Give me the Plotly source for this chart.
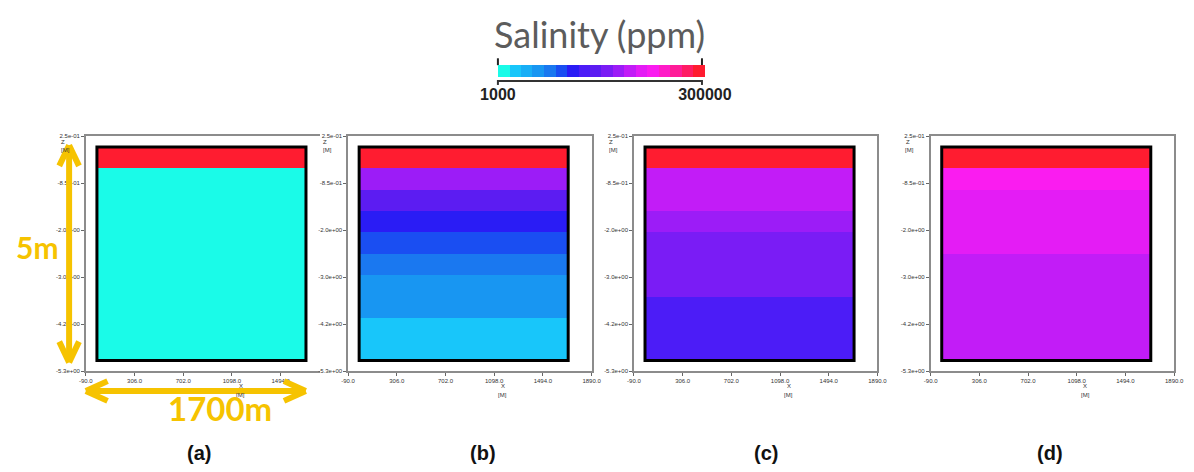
import plotly.graph_objects as go

W, H = 1194, 472

# ---------------- data ----------------
ZMIN, ZMAX = 1000, 300000
band_colors = [
    "#1AFBE8", "#18C6FA", "#18AEF6", "#1896F2", "#1A78F0", "#1A4EF2",
    "#2A1CF5", "#4C1CF7", "#5C1CF2", "#7A1CF5", "#9C1CF7", "#C21CF7",
    "#E41CF5", "#FA1CF0", "#FF1CC8", "#FF1C98", "#FF1C64", "#FF1C30",
]
x_edges = [0, 1700]

a_depths = [0, -0.5, -5]
a_sal = [300000, 1000]

b_depths = [0, -0.5, -1, -1.5, -2, -2.5, -3, -4, -5]
b_sal = [300000, 175000, 142000, 109000, 92000, 76000, 59000, 26000]

c_depths = [0, -0.5, -1.5, -2, -3.5, -5]
c_sal = [300000, 192000, 175000, 159000, 126000]

d_depths = [0, -0.5, -1, -2.5, -5]
d_sal = [300000, 225000, 209000, 192000]

x_tickvals = [-90, 306, 702, 1098, 1494, 1890]
x_ticktext = ["-90.0", "306.0", "702.0", "1098.0", "1494.0", "1890.0"]
y_tickvals = [0.25, -0.85, -1.95, -3.05, -4.15, -5.25]
y_ticktext = ["2.5e-01", "-8.5e-01", "-2.0e+00", "-3.0e+00", "-4.2e+00", "-5.3e+00"]
panel_labels = ["(a)", "(b)", "(c)", "(d)"]

# ---------------- helpers ----------------
def px(x):
    return x / W

def py(y):
    return 1 - y / H

n = len(band_colors)
colorscale = []
for i, c in enumerate(band_colors):
    colorscale.append([i / n, c])
    colorscale.append([(i + 1) / n, c])

panels = [
    dict(depths=a_depths, sal=a_sal, left=80, right=318, mirror_y=False),
    dict(depths=b_depths, sal=b_sal, left=346, right=593, mirror_y=True),
    dict(depths=c_depths, sal=c_sal, left=636, right=883, mirror_y=True),
    dict(depths=d_depths, sal=d_sal, left=937, right=1184, mirror_y=True),
]
TOP, BOT = 135, 373
XSPAN = 1980 / 247.0  # metres per pixel

fig = go.Figure()
tickfont = dict(family="Liberation Sans", size=6, color="#333")
small = dict(family="Liberation Sans", size=6, color="#333")


def note(x, y, text, font):
    fig.add_annotation(x=px(x), y=py(y), xref="paper", yref="paper",
                       xanchor="center", yanchor="middle",
                       text=text, showarrow=False, font=font)


for k, p in enumerate(panels):
    sfx = "" if k == 0 else str(k + 1)
    xa, ya = "x" + sfx, "y" + sfx
    depths = p["depths"][::-1]
    sal = p["sal"][::-1]
    fig.add_trace(go.Heatmap(
        x=x_edges, y=depths, z=[[v] for v in sal],
        coloraxis="coloraxis", xaxis=xa, yaxis=ya,
        hoverinfo="skip",
    ))
    xr = [-90, -90 + (p["right"] - p["left"]) * XSPAN]
    fig.layout["xaxis" + sfx] = dict(
        domain=[px(p["left"]), px(p["right"])], range=xr, anchor=ya,
        tickvals=x_tickvals, ticktext=x_ticktext, tickfont=tickfont,
        showline=True, mirror=True, linecolor="#8c8c8c", linewidth=1.5,
        ticks="outside", ticklen=3, tickcolor="#666", showgrid=False,
        zeroline=False,
    )
    fig.layout["yaxis" + sfx] = dict(
        domain=[py(BOT), py(TOP)], range=[-5.25, 0.25], anchor=xa,
        tickvals=y_tickvals, ticktext=y_ticktext, tickfont=tickfont,
        showline=True, mirror=p["mirror_y"], linecolor="#8c8c8c", linewidth=1.5,
        ticks="outside", ticklen=3, tickcolor="#666", showgrid=False,
        zeroline=False,
    )
    fig.add_shape(type="rect", xref=xa, yref=ya,
                  x0=x_edges[0], x1=x_edges[-1],
                  y0=min(p["depths"]), y1=max(p["depths"]),
                  line=dict(color="black", width=3))
    L = p["left"]
    note(L - 23, 141, "Z", small)
    note(L - 21, 149, "[M]", small)
    note(L + 157, 388, "X", small)
    note(L + 157, 397, "[M]", small)

for lab, cx in zip(panel_labels, [195, 483, 770, 1058]):
    note(cx, 456, lab, dict(family="Liberation Sans", size=20, color="#111", weight="bold"))

note(601, 31, "Salinity (ppm)", dict(family="Lato", size=36, color="#5c5c5c"))

dark = "#333333"
for xx in (498, 705):
    fig.add_shape(type="line", xref="paper", yref="paper",
                  x0=px(xx), x1=px(xx), y0=py(56), y1=py(63),
                  line=dict(color="#222", width=2))
    fig.add_shape(type="line", xref="paper", yref="paper",
                  x0=px(xx), x1=px(xx), y0=py(78), y1=py(83),
                  line=dict(color=dark, width=2))
fig.add_shape(type="line", xref="paper", yref="paper",
              x0=px(498), x1=px(705), y0=py(79), y1=py(79),
              line=dict(color=dark, width=2))

gold = "#F6C300"
aw = 6


def seg(x0, y0, x1, y1):
    fig.add_shape(type="line", xref="paper", yref="paper",
                  x0=px(x0), y0=py(y0), x1=px(x1), y1=py(y1),
                  line=dict(color=gold, width=aw))


seg(63, 145, 63, 363)
seg(63, 144, 53, 165); seg(63, 144, 73, 165)
seg(63, 364, 53, 343); seg(63, 364, 73, 343)
seg(81, 393, 302, 393)
seg(80, 393, 102, 383); seg(80, 393, 102, 403)
seg(303, 393, 281, 383); seg(303, 393, 281, 403)

note(31, 247, "5m", dict(family="Lato", size=30, color=gold, weight="bold"))
note(216, 410, "1700m", dict(family="Lato", size=33, color=gold, weight="bold"))

fig.update_layout(
    width=W, height=H, margin=dict(l=0, r=0, t=0, b=0),
    paper_bgcolor="white", plot_bgcolor="white", showlegend=False,
    coloraxis=dict(
        colorscale=colorscale, cmin=ZMIN, cmax=ZMAX,
        colorbar=dict(
            orientation="h", x=px(498), xanchor="left", y=py(63), yanchor="top",
            lenmode="pixels", len=207, thicknessmode="pixels", thickness=12,
            outlinewidth=0, xpad=0, ypad=0,
            tickvals=[ZMIN, ZMAX], ticktext=["1000", "300000"],
            ticks="outside", ticklen=4, tickcolor="rgba(0,0,0,0)",
            tickfont=dict(family="Liberation Sans", size=16, color="#222", weight="bold"),
        ),
    ),
)

fig.write_html("out.html")
